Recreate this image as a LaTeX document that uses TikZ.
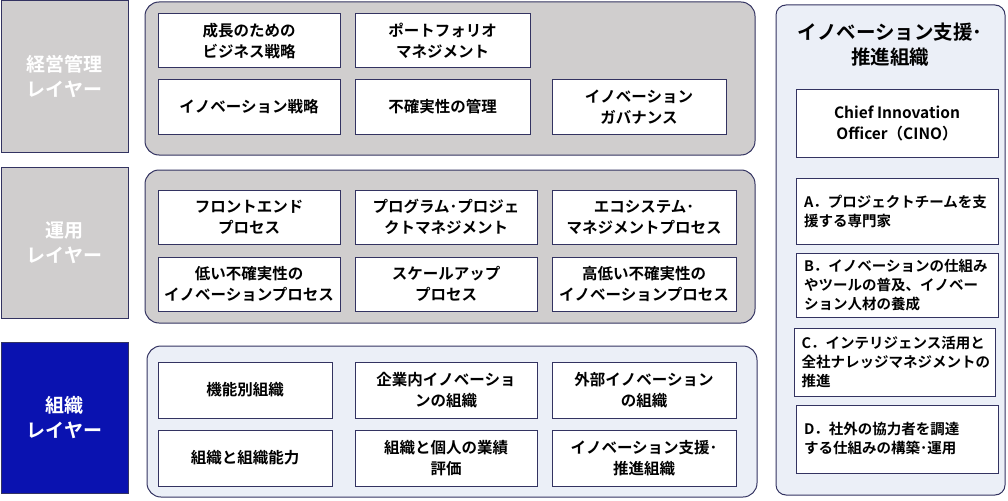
\documentclass[tikz,border=0pt]{standalone}
\usepackage{fontspec}
\setmainfont{Noto Sans CJK JP}[BoldFont={* Bold}]
\begin{document}
\begin{tikzpicture}[x=1pt,y=-1pt,
 edge/.style={draw=black!70!blue!60!gray, line width=1pt},
 lf/.style={text=white, font=\bfseries\fontsize{19}{25}\selectfont, align=center},
 panel/.style={edge, rounded corners=14pt},
 box/.style={edge, fill=white},
 bt/.style={font=\bfseries\fontsize{15.5}{21}\selectfont, align=center},
 rbox/.style={edge, fill=white},
 rt/.style={font=\bfseries\fontsize{14.5}{19}\selectfont, align=left, text width=186pt}]
\definecolor{g}{HTML}{D0CECE}\definecolor{lb}{HTML}{EBEFF7}\definecolor{db}{HTML}{0A12B0}
\useasboundingbox (0,0) rectangle (1008,500);
\newcommand{\bx}[7]{\draw[#1] (#2,#3) rectangle (#4,#5) node[midway,#6] {#7};}
% left labels
\bx{edge,fill=g}{1}{1}{128}{152}{lf}{経営管理\\レイヤー}
\bx{edge,fill=g}{1}{167}{128}{318}{lf}{運用\\レイヤー}
\bx{edge,fill=db}{1}{342}{128}{493}{lf}{組織\\レイヤー}
% panels
\draw[panel,fill=g] (145,2) rectangle (755,155);
\draw[panel,fill=g] (145,170) rectangle (755,323);
\draw[panel,fill=lb] (147,346) rectangle (757,497);
\draw[panel,fill=lb,rounded corners=10pt] (776,5) rectangle (1005,495);
\bx{box}{158}{14}{340}{68}{bt}{成長のための\\ビジネス戦略}
\bx{box}{355}{14}{530}{68}{bt}{ポートフォリオ\\マネジメント}
\bx{box}{158}{80}{340}{134}{bt}{イノベーション戦略}
\bx{box}{355}{80}{530}{134}{bt}{不確実性の管理}
\bx{box}{552}{80}{726}{134}{bt}{イノベーション\\ガバナンス}
\bx{box}{158}{190}{340}{244}{bt}{フロントエンド\\プロセス}
\bx{box}{355}{190}{537}{244}{bt}{プログラム･プロジェ\\クトマネジメント}
\bx{box}{552}{190}{736}{244}{bt}{エコシステム･\\マネジメントプロセス}
\bx{box}{158}{257}{340}{311}{bt}{低い不確実性の\\イノベーションプロセス}
\bx{box}{355}{257}{537}{311}{bt}{スケールアップ\\プロセス}
\bx{box}{552}{257}{736}{311}{bt}{高低い不確実性の\\イノベーションプロセス}
\bx{box}{158}{362}{332}{418}{bt}{機能別組織}
\bx{box}{355}{362}{537}{418}{bt}{企業内イノベーショ\\ンの組織}
\bx{box}{552}{362}{736}{418}{bt}{外部イノベーション\\の組織}
\bx{box}{158}{430}{332}{486}{bt}{組織と組織能力}
\bx{box}{355}{430}{537}{486}{bt}{組織と個人の業績\\評価}
\bx{box}{552}{430}{736}{486}{bt}{イノベーション支援･\\推進組織}
\node[font=\bfseries\fontsize{19.5}{25}\selectfont, align=center] (t) at (890,45) {イノベーション支援･\\推進組織};
\bx{box}{796}{90}{998}{157}{bt}{Chief Innovation\\Officer（CINO）}
\bx{rbox}{796}{178}{998}{244}{rt}{A．プロジェクトチームを支\\援する専門家}
\bx{rbox}{796}{253}{998}{317}{rt}{B．イノベーションの仕組み\\やツールの普及、イノベー\\ション人材の養成}
\bx{rbox}{794}{328}{995}{396}{rt}{C．インテリジェンス活用と\\全社ナレッジマネジメントの\\推進}
\bx{rbox}{796}{405}{998}{473}{rt}{D．社外の協力者を調達\\する仕組みの構築･運用}
\end{tikzpicture}
\end{document}
